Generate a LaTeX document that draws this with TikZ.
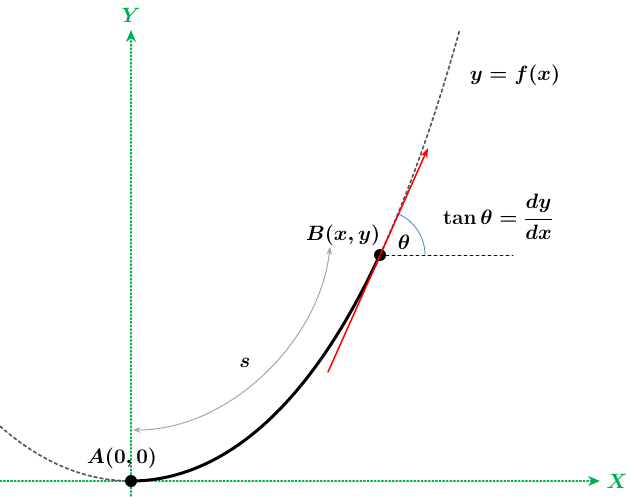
\documentclass[tikz,border=0pt]{standalone}
\usepackage{amsmath}
\usetikzlibrary{arrows.meta}
\definecolor{axisgreen}{RGB}{0,176,80}
\definecolor{curvegray}{RGB}{90,90,90}
\definecolor{anglblue}{RGB}{80,130,210}
\tikzset{
  axis/.style={draw=axisgreen, dash pattern=on 1.6pt off 2pt, line width=1.2pt, -{Stealth[length=12pt,width=10pt]}},
  dot/.style={circle, fill=black, inner sep=0pt, minimum size=12pt},
  lbl/.style={inner sep=1pt}
}
\begin{document}
\begin{tikzpicture}[x=1pt, y=1pt, font=\fontsize{20}{24}\selectfont\boldmath, line join=round, line cap=round, >=Stealth]
	\useasboundingbox (-131,-15) rectangle (500,481);
	% axes
	\coordinate (xl) at (-131,0);
	\coordinate (xr) at (469,0);
	\coordinate (yb) at (0,-15);
	\coordinate (yt) at (0,451);
	\draw[axis] (xl)--(xr);
	\draw[axis] (yb)--(yt);
	\node[lbl, text=axisgreen] (X) at (486,0) {$X$};
	\node[lbl, text=axisgreen] (Y) at (0,466) {$Y$};
	% the curve y = f(x)
	\draw[curvegray, dashed, line width=1.7pt] plot[domain=-131:0, samples=40] (\x,{165*(cosh(\x/165)-1)});
	\draw[curvegray, dashed, line width=1.7pt] plot[domain=249:329, samples=30] (\x,{165*(cosh(\x/165)-1)});
	\draw[black, line width=3pt] plot[domain=0:249, samples=80] (\x,{165*(cosh(\x/165)-1)});
	% points
	\node[dot] (A) at (0,0) {};
	\node[dot] (B) at (249,226) {};
	% tangent and angle
	\coordinate (t0) at (197,109);
	\coordinate (t1) at (297,333);
	\coordinate (h1) at (382,226);
	\draw[red, line width=1.5pt, -{Stealth[length=10pt,width=7pt]}] (t0)--(t1);
	\draw[dashed, line width=0.6pt] (B.center)--(h1);
	\draw[anglblue, line width=0.8pt] ([shift={(0:45)}]B.center) arc (0:65:45);
	% arc length s
	\coordinate (s0) at (2,51);
	\coordinate (s1) at (199,234);
	\draw[gray!70, line width=1pt, <->] (s0) .. controls (99,51) and (189,141) .. (s1);
	% labels
	\node[lbl] (Al) at (-9,23) {$A(0,0)$};
	\node[lbl] (Bl) at (212,246) {$B(x,y)$};
	\node[lbl] (th) at (273,239) {$\theta$};
	\node[lbl] (sl) at (114,118) {$s$};
	\node[lbl] (fl) at (384,406) {$y=f(x)$};
	\node[lbl] (tl) at (367,264) {$\tan\theta=\dfrac{dy}{dx}$};
\end{tikzpicture}
\end{document}
